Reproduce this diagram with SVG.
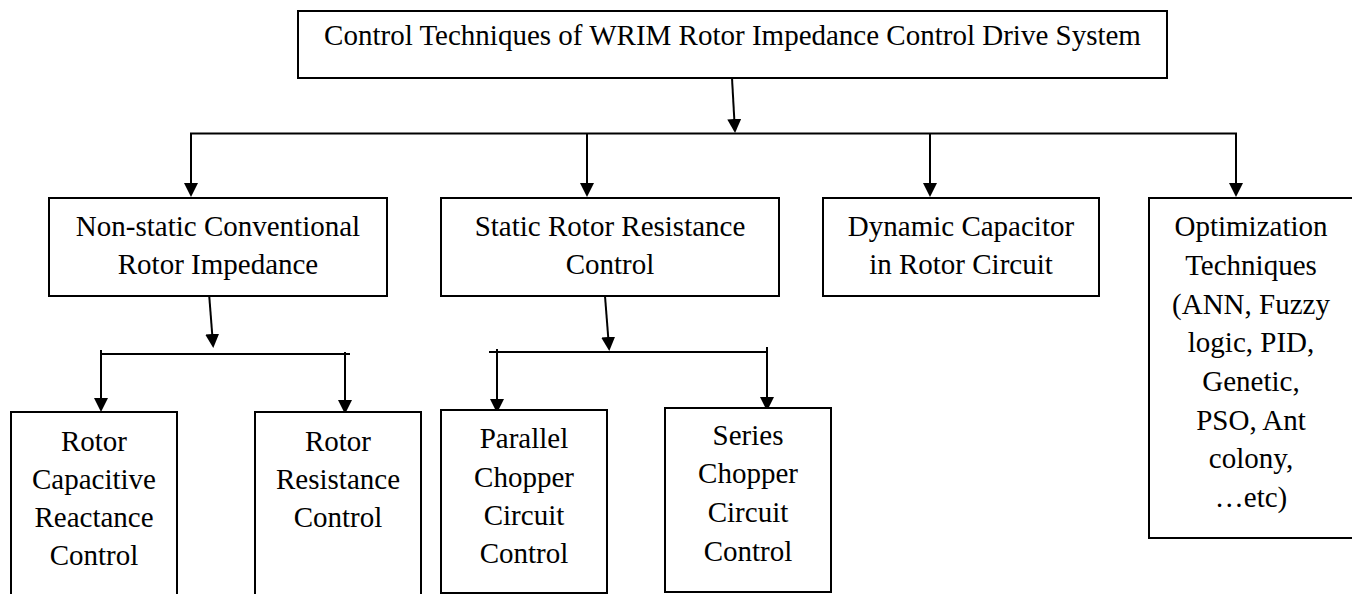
<svg xmlns="http://www.w3.org/2000/svg" width="1352" height="594" viewBox="0 0 1352 594">
<style>
.box{fill:#fff;stroke:#000;stroke-width:2}
.t{font-family:"Liberation Serif","Times New Roman",serif;font-size:29px;fill:#000;text-anchor:middle}
.c{fill:none;stroke:#000;stroke-width:2}
</style>
<defs>
<marker id="ah" markerWidth="14" markerHeight="14" refX="4" refY="7" orient="auto" markerUnits="userSpaceOnUse">
<path d="M0,0 L14,7 L0,14 z" fill="#000"/>
</marker>
</defs>
<rect width="1352" height="594" fill="#fff"/>
<g id="connectors">
<line class="c" x1="732" y1="78" x2="734.5" y2="123" marker-end="url(#ah)"/>
<line class="c" x1="190" y1="133.5" x2="1237" y2="133.5"/>
<line class="c" x1="191" y1="133.5" x2="191" y2="187" marker-end="url(#ah)"/>
<line class="c" x1="587" y1="133.5" x2="587" y2="187" marker-end="url(#ah)"/>
<line class="c" x1="930" y1="133.5" x2="930" y2="187" marker-end="url(#ah)"/>
<line class="c" x1="1236" y1="133.5" x2="1236" y2="187" marker-end="url(#ah)"/>
<line class="c" x1="209" y1="293" x2="212.5" y2="338" marker-end="url(#ah)"/>
<line class="c" x1="101" y1="354" x2="350" y2="354"/>
<line class="c" x1="101" y1="350" x2="101" y2="402" marker-end="url(#ah)"/>
<line class="c" x1="345" y1="352" x2="345" y2="404" marker-end="url(#ah)"/>
<line class="c" x1="605" y1="296" x2="608.5" y2="341" marker-end="url(#ah)"/>
<line class="c" x1="489" y1="352" x2="767" y2="352"/>
<line class="c" x1="497" y1="349" x2="497" y2="403" marker-end="url(#ah)"/>
<line class="c" x1="767" y1="347" x2="767" y2="401" marker-end="url(#ah)"/>
</g>
<g id="root">
<rect class="box" x="298" y="11" width="869" height="67"/>
<text class="t" x="732.5" y="45">Control Techniques of WRIM Rotor Impedance Control Drive System</text>
</g>
<g id="nonstatic">
<rect class="box" x="49" y="198" width="338" height="98"/>
<text class="t" x="218" y="236">Non-static Conventional</text>
<text class="t" x="218" y="274">Rotor Impedance</text>
</g>
<g id="static">
<rect class="box" x="441" y="198" width="338" height="98"/>
<text class="t" x="610" y="236">Static Rotor Resistance</text>
<text class="t" x="610" y="274">Control</text>
</g>
<g id="dynamic">
<rect class="box" x="823" y="198" width="276" height="98"/>
<text class="t" x="961" y="236">Dynamic Capacitor</text>
<text class="t" x="961" y="274">in Rotor Circuit</text>
</g>
<g id="optimization">
<rect class="box" x="1149" y="198" width="220" height="340"/>
<text class="t" x="1251" y="236">Optimization</text>
<text class="t" x="1251" y="275">Techniques</text>
<text class="t" x="1251" y="314">(ANN, Fuzzy</text>
<text class="t" x="1251" y="352">logic, PID,</text>
<text class="t" x="1251" y="391">Genetic,</text>
<text class="t" x="1251" y="430">PSO, Ant</text>
<text class="t" x="1251" y="468">colony,</text>
<text class="t" x="1251" y="507">…etc)</text>
</g>
<g id="capacitive">
<rect class="box" x="11" y="412" width="166" height="200"/>
<text class="t" x="94" y="451">Rotor</text>
<text class="t" x="94" y="489">Capacitive</text>
<text class="t" x="94" y="527">Reactance</text>
<text class="t" x="94" y="565">Control</text>
</g>
<g id="resistance">
<rect class="box" x="255" y="412" width="166" height="200"/>
<text class="t" x="338" y="451">Rotor</text>
<text class="t" x="338" y="489">Resistance</text>
<text class="t" x="338" y="527">Control</text>
</g>
<g id="parallel">
<rect class="box" x="441" y="410" width="166" height="183"/>
<text class="t" x="524" y="448">Parallel</text>
<text class="t" x="524" y="487">Chopper</text>
<text class="t" x="524" y="525">Circuit</text>
<text class="t" x="524" y="563">Control</text>
</g>
<g id="series">
<rect class="box" x="665" y="408" width="166" height="184"/>
<text class="t" x="748" y="445">Series</text>
<text class="t" x="748" y="483">Chopper</text>
<text class="t" x="748" y="522">Circuit</text>
<text class="t" x="748" y="561">Control</text>
</g>
</svg>
